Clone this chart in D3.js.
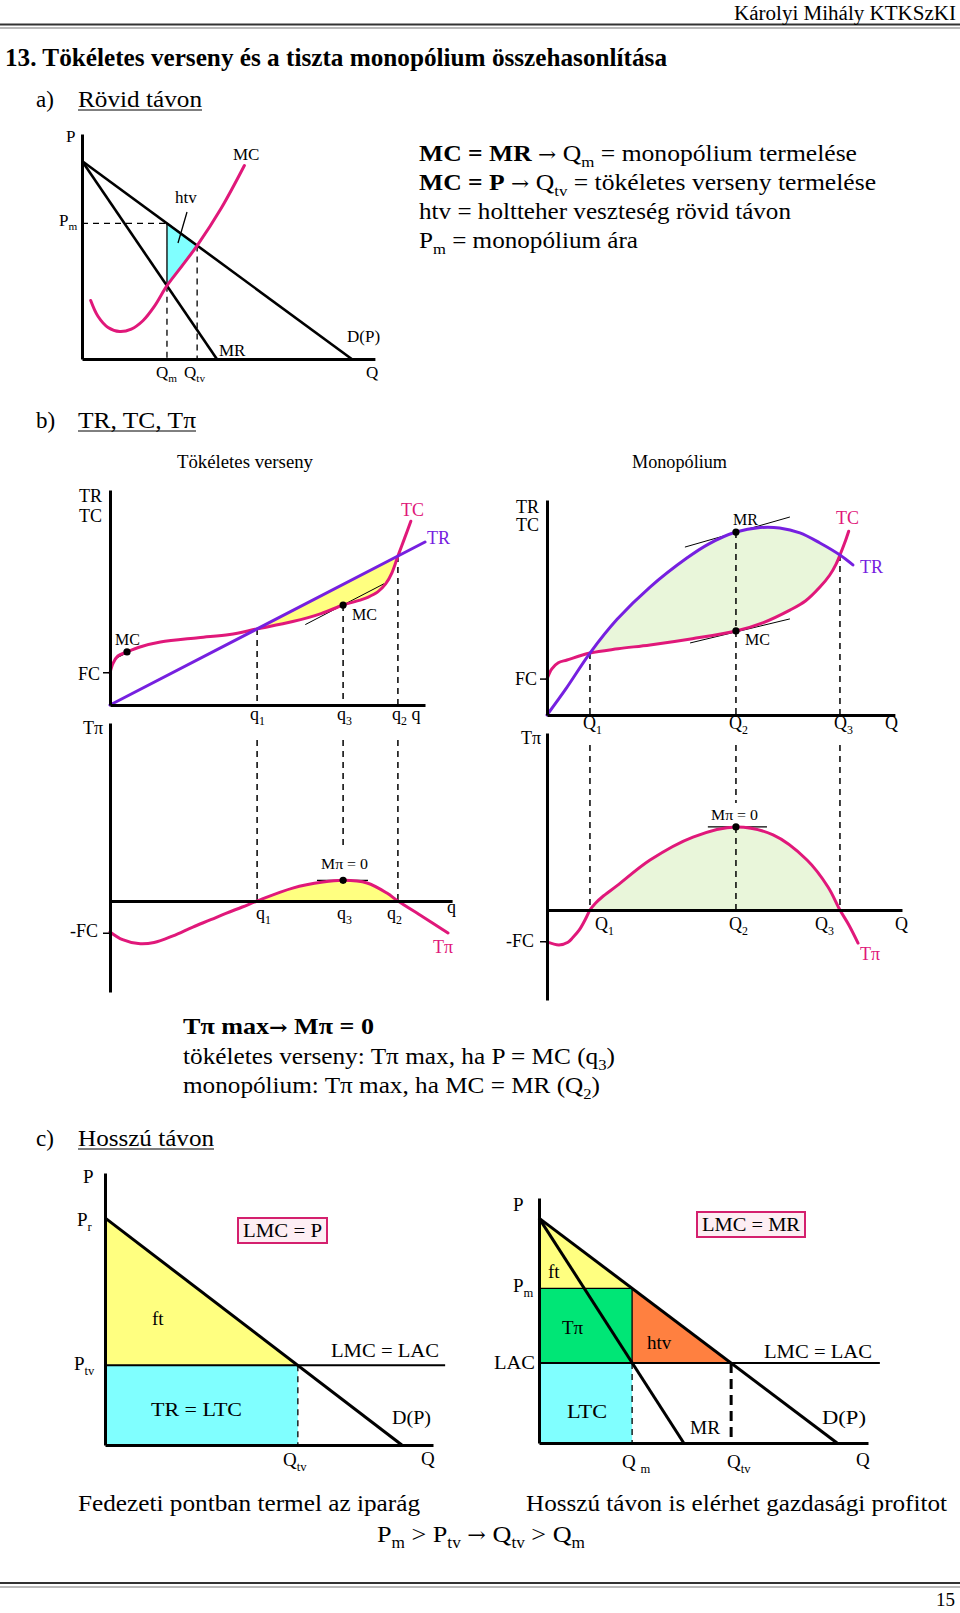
<!DOCTYPE html>
<html><head><meta charset="utf-8">
<script src="https://cdn.jsdelivr.net/npm/d3@7"></script>
<style>
body{margin:0;background:#fff}
svg{display:block}
text{font-family:"Liberation Serif","Times New Roman",serif;white-space:pre}
</style>
</head><body><svg id="page" width="960" height="1613"></svg>
<script>
// ---------- DATA ----------
// a) short run
const aDemand = [[0,88],[93,0]];
const aMR = [[0,88],[46.5,0]];
const aMC = [[3,26],[5.5,19],[9,14],[13,12.2],[17,13.3],[21,17],[25,23.5],[29.3,32.6],[34.5,41.4],[39.7,50.4],[48,67],[56,86]];
const aQm = 29.3, aQtv = 39.7, aPm = 60.3, aMRatQm = 32.6, aDatQtv = 50.4;
const aHtv = [[aQm,aPm],[aQtv,aDatQtv],[aQm,aMRatQm]];
// b) perfect competition
const pcTR = [[0,0],[100,75.8]];
const pcTC = [[0,15],[1,19.5],[2.5,22.8],[5.4,24.7],[9.5,27],[16,29.3],[28,31.3],[38,32.8],[46.7,35.4],[58,38.8],[67,42.5],[74,46.5],[79.4,48.8],[82,50.2],[85,52.6],[87.5,56.3],[89.5,61.5],[91.4,69.3],[93.5,77.5],[95.5,85.5]];
const pcQ = {q1:46.7, q3:74, q2:91.4};
const pcTCatQ = {q1:35.4, q3:46.5, q2:69.3};
const pcDots = [[5.4,24.7],[74,46.5]];
const pcTangents = [[[1.6,21.5],[9.5,27.2]],[[62,37.4],[87,56.4]]];
const pcPi = [[0,-14.4],[4,-18],[9,-19.8],[14,-19.3],[20,-16.2],[26.3,-12.1],[32,-8.7],[37,-5.6],[42,-2.8],[46.7,0],[58,6],[67.6,8.8],[74,9.6],[81.6,8.4],[87.9,3.7],[91.4,0],[99.4,-7.4],[107.3,-14.9]];
const pcPiMax = [74,9.6];
const pcPiTangent = [[65.7,9.6],[81.9,9.6]];
const pcFC = 15;
// b) monopoly
const moTR = [[0,0],[6,12.5],[13.3,28.8],[21.7,44.5],[31.9,59.5],[43.3,73],[50,79.5],[58.5,85.1],[66,87.2],[72,87],[78.3,84.7],[84.5,80],[90.7,74.4],[94.7,69.8]];
const moTC = [[0,16.7],[1.5,21.5],[3.5,24.3],[6.2,25.6],[13.3,28.8],[22,30.8],[31.9,32.6],[45,35.5],[58.5,39.1],[67,43],[75.2,48.8],[80,53],[84.5,59.5],[87.5,65],[89.5,70.2],[90.7,74.4],[92.2,80.2],[93.4,85.5]];
const moQ = {Q1:13.3, Q2:58.5, Q3:90.7};
const moTop = {Q1:28.8, Q2:85.1, Q3:74.4};
const moDots = [[58.5,85.1],[58.5,39.1]];
const moTangents = [[[42.7,78.1],[75.2,92.1]],[[44.3,33.5],[75.2,44.7]]];
const moPi = [[0,-16.8],[3.7,-18.4],[6.5,-17],[8,-14.5],[10,-10.5],[12,-4.5],[13.3,0],[15,3.6],[17,6.7],[21.7,12.8],[31.9,26.3],[45.2,38.4],[58.5,43.7],[70,39.5],[80.5,26.3],[87,12.1],[90.7,0],[93.5,-8],[96.3,-17.4]];
const moPiMax = [58.5,43.7];
const moPiTangent = [[49.8,43.7],[68.1,43.7]];
const moFC = 16.7;
// c) long run, perfect competition
const lcDemand = [[0,83.5],[90.5,0]];
const lcPtv = 29.3, lcQtv = 58.8, lcLACend = 103.7;
const lcFt = [[0,83.5],[lcQtv,lcPtv],[0,lcPtv]];
// c) long run, monopoly
const lmDemand = [[0,91.8],[90.6,0]];
const lmMR = [[0,91.8],[44,0]];
const lmPm = 63.1, lmLAC = 32.7, lmQm = 28.3, lmQtv = 58.4, lmLACend = 103.6;
const lmFt = [[0,91.8],[lmQm,lmPm],[0,lmPm]];
const lmHtv = [[lmQm,lmPm],[lmQtv,lmLAC],[lmQm,lmLAC]];

// ---------- HELPERS ----------
const svg = d3.select('#page');
const PINK = '#e0187a', PURPLE = '#7620e0';
const CR = d3.curveCatmullRom.alpha(0.5);

function txt(g, x, y, parts, o = {}) {
  const size = o.size || 17;
  const t = g.append('text').attr('x', x).attr('y', y).attr('font-size', size)
    .attr('text-anchor', o.anchor || 'start').style('fill', o.fill || '#000');
  if (o.bold) t.attr('font-weight', 'bold');
  if (o.len) t.attr('textLength', o.len).attr('lengthAdjust', 'spacingAndGlyphs');
  if (typeof parts === 'string') parts = [parts];
  const sh = size * 0.25;
  let low = false;
  parts.forEach(p => {
    const it = typeof p === 'string' ? {t: p} : p;
    const pieces = it.sub ? [it.t] : it.t.split(/(→)/).filter(s => s.length);
    pieces.forEach(piece => {
      const s = t.append('tspan').text(piece);
      if (piece === '→') s.style('font-family', '"DejaVu Serif",serif').attr('font-size', size * 0.85);
      if (it.b) s.attr('font-weight', 'bold');
      if (it.sub) { s.attr('font-size', size * 0.66); if (!low) { s.attr('dy', sh); low = true; } }
      else if (low) { s.attr('dy', -sh); low = false; }
    });
  });
  return t;
}
function path(g, pts, xs, ys, o = {}) {
  const gen = d3.line().x(d => xs(d[0])).y(d => ys(d[1])).curve(o.curve || d3.curveLinear);
  return g.append('path').attr('d', gen(pts) + (o.close ? 'Z' : ''))
    .attr('fill', o.fill || 'none').attr('stroke', o.stroke || 'none')
    .attr('stroke-width', o.w || 1).attr('stroke-dasharray', o.dash || null)
    .attr('stroke-linecap', o.cap || 'butt').attr('stroke-linejoin', 'round');
}
function band(g, upper, lower, xs, ys, fill) {
  const gen = d3.line().x(d => xs(d[0])).y(d => ys(d[1])).curve(CR);
  const a = gen(upper), b = gen(lower.slice().reverse());
  g.append('path').attr('d', a + 'L' + b.slice(1) + 'Z').attr('fill', fill);
}
function hAxis(g, xs, ys, from, to, at = 0, w = 3) {
  const s = d3.scaleLinear([from, to], [xs(from), xs(to)]);
  g.append('g').attr('transform', `translate(0,${ys(at)})`)
    .call(d3.axisBottom(s).tickValues([]).tickSizeOuter(0))
    .call(a => a.select('.domain').attr('stroke', '#000').attr('stroke-width', w));
}
function vAxis(g, xs, ys, from, to, at = 0, w = 3) {
  const s = d3.scaleLinear([from, to], [ys(from), ys(to)]);
  g.append('g').attr('transform', `translate(${xs(at)},0)`)
    .call(d3.axisLeft(s).tickValues([]).tickSizeOuter(0))
    .call(a => a.select('.domain').attr('stroke', '#000').attr('stroke-width', w));
}
function dashV(g, xs, ys, xv, y0, y1, w = 1.5, dash = '6,5') {
  path(g, [[xv, y0], [xv, y1]], xs, ys, {stroke: '#000', w, dash});
}
function dots(g, pts, xs, ys) {
  g.selectAll(null).data(pts).enter().append('circle')
    .attr('cx', d => xs(d[0])).attr('cy', d => ys(d[1])).attr('r', 3.6).attr('fill', '#000');
}
function tick(g, xs, ys, yv) {
  g.append('line').attr('x1', xs(0) - 7).attr('x2', xs(0)).attr('y1', ys(yv)).attr('y2', ys(yv)).attr('stroke', '#000').attr('stroke-width', 1.5);
}

// ---------- PAGE TEXT ----------
const T = svg.append('g');
T.append('line').attr('x1',0).attr('x2',960).attr('y1',24.5).attr('y2',24.5).attr('stroke','#333').attr('stroke-width',2);
T.append('line').attr('x1',0).attr('x2',960).attr('y1',28).attr('y2',28).attr('stroke','#777').attr('stroke-width',1);
txt(T, 956, 20, 'Károlyi Mihály KTKSzKI', {size: 20, anchor: 'end', len: 222});
txt(T, 5, 66, '13. Tökéletes verseny és a tiszta monopólium összehasonlítása', {size: 25, bold: true, len: 662});
function section(y, label, title, len) {
  txt(T, 36, y, label, {size: 23});
  txt(T, 78, y, title, {size: 23, len});
  T.append('line').attr('x1', 78).attr('x2', 78 + len).attr('y1', y + 3).attr('y2', y + 3).attr('stroke', '#000').attr('stroke-width', 1);
}
section(107, 'a)', 'Rövid távon', 124);
section(428, 'b)', 'TR, TC, Tπ', 118);
section(1146, 'c)', 'Hosszú távon', 136);

txt(T, 419, 161, [{t:'MC = MR', b:1}, ' → Q', {t:'m', sub:1}, ' = monopólium termelése'], {size: 23, len: 438});
txt(T, 419, 190, [{t:'MC = P', b:1}, ' → Q', {t:'tv', sub:1}, ' = tökéletes verseny termelése'], {size: 23, len: 457});
txt(T, 419, 219, 'htv = holtteher veszteség rövid távon', {size: 23, len: 372});
txt(T, 419, 248, ['P', {t:'m', sub:1}, ' = monopólium ára'], {size: 23, len: 219});

txt(T, 183, 1034, 'Tπ max→ Mπ = 0', {size: 23, bold: true, len: 191});
txt(T, 183, 1064, ['tökéletes verseny: Tπ max, ha P = MC (q', {t:'3', sub:1}, ')'], {size: 23, len: 432});
txt(T, 183, 1093, ['monopólium: Tπ max, ha MC = MR (Q', {t:'2', sub:1}, ')'], {size: 23, len: 417});

txt(T, 78, 1511, 'Fedezeti pontban termel az iparág', {size: 24, len: 342});
txt(T, 526, 1511, 'Hosszú távon is elérhet gazdasági profitot', {size: 24, len: 421});
txt(T, 377, 1542, ['P', {t:'m', sub:1}, ' > P', {t:'tv', sub:1}, ' → Q', {t:'tv', sub:1}, ' > Q', {t:'m', sub:1}], {size: 24, len: 208});
T.append('line').attr('x1',0).attr('x2',960).attr('y1',1583).attr('y2',1583).attr('stroke','#333').attr('stroke-width',2);
T.append('line').attr('x1',0).attr('x2',960).attr('y1',1587).attr('y2',1587).attr('stroke','#777').attr('stroke-width',1);
txt(T, 955, 1606, '15', {size: 19, anchor: 'end'});

// ---------- CHART a ----------
{
  const g = svg.append('g');
  const xs = d3.scaleLinear([0, 100], [82, 372]);
  const ys = d3.scaleLinear([0, 100], [359, 134]);
  path(g, aHtv, xs, ys, {close: true, fill: '#80ffff', stroke: '#000', w: 1.3});
  path(g, [[0, aPm], [aQm, aPm]], xs, ys, {stroke: '#000', w: 1.3, dash: '6,5'});
  dashV(g, xs, ys, aQm, aMRatQm, 0, 1.3);
  dashV(g, xs, ys, aQtv, aDatQtv, 0, 1.3);
  path(g, aDemand, xs, ys, {stroke: '#000', w: 2.6});
  path(g, aMR, xs, ys, {stroke: '#000', w: 2.6});
  path(g, aMC, xs, ys, {stroke: PINK, w: 3, curve: CR, cap: 'round'});
  vAxis(g, xs, ys, 0, 100);
  hAxis(g, xs, ys, 0, 101);
  g.append('line').attr('x1', 187).attr('y1', 212).attr('x2', 178).attr('y2', 243).attr('stroke', '#000').attr('stroke-width', 1.3);
  txt(g, 66, 142, 'P', {size: 17});
  txt(g, 59, 226, ['P', {t:'m', sub:1}], {size: 17});
  txt(g, 233, 160, 'MC', {size: 17});
  txt(g, 175, 203, 'htv', {size: 17});
  txt(g, 219, 356, 'MR', {size: 17});
  txt(g, 347, 342, 'D(P)', {size: 17});
  txt(g, 156, 378, ['Q', {t:'m', sub:1}], {size: 17});
  txt(g, 184, 378, ['Q', {t:'tv', sub:1}], {size: 17});
  txt(g, 366, 378, 'Q', {size: 17});
}

// ---------- CHART b (perfect competition) ----------
{
  const g = svg.append('g');
  const xs = d3.scaleLinear([0, 100], [110, 425]);
  const ys = d3.scaleLinear([0, 100], [705, 490]);
  const yb = d3.scaleLinear([0, 100], [901, 686]);
  band(g, pcTR, pcTC.filter(d => d[0] >= pcQ.q1 && d[0] <= pcQ.q2), xs, ys, '#ffff80');
  band(g, pcPi.filter(d => d[0] >= pcQ.q1 && d[0] <= pcQ.q2), [[pcQ.q1, 0], [pcQ.q2, 0]], xs, yb, '#ffff80');
  const gap = (901 - 740) / 2.15, labTop = (901 - 850) / 2.15;
  dashV(g, xs, ys, pcQ.q1, pcTCatQ.q1, 0); dashV(g, xs, yb, pcQ.q1, gap, 0);
  dashV(g, xs, ys, pcQ.q3, pcTCatQ.q3, 0); dashV(g, xs, yb, pcQ.q3, gap, labTop);
  dashV(g, xs, ys, pcQ.q2, pcTCatQ.q2, 0); dashV(g, xs, yb, pcQ.q2, gap, 0);
  pcTangents.forEach(t => path(g, t, xs, ys, {stroke: '#000', w: 1}));
  path(g, pcPiTangent, xs, yb, {stroke: '#000', w: 1.2});
  path(g, pcTC, xs, ys, {stroke: PINK, w: 3, curve: CR, cap: 'round'});
  path(g, pcTR, xs, ys, {stroke: PURPLE, w: 3, cap: 'round'});
  path(g, pcPi, xs, yb, {stroke: PINK, w: 3, curve: CR, cap: 'round'});
  dots(g, pcDots, xs, ys);
  dots(g, [pcPiMax], xs, yb);
  vAxis(g, xs, ys, 0, 100);
  hAxis(g, xs, ys, 0, 100);
  vAxis(g, xs, yb, -42.3, 82.8);
  hAxis(g, xs, yb, 0, 108.6);
  tick(g, xs, ys, pcFC);
  tick(g, xs, yb, -pcFC);
  txt(g, 177, 468, 'Tökéletes verseny', {size: 18, len: 136});
  txt(g, 79, 502, 'TR', {size: 18});
  txt(g, 79, 522, 'TC', {size: 18});
  txt(g, 78, 680, 'FC', {size: 18});
  txt(g, 401, 516, 'TC', {size: 18, fill: PINK});
  txt(g, 427, 544, 'TR', {size: 18, fill: PURPLE});
  txt(g, 115, 645, 'MC', {size: 16});
  txt(g, 352, 620, 'MC', {size: 16});
  txt(g, 250, 720, ['q', {t:'1', sub:1}], {size: 18});
  txt(g, 337, 720, ['q', {t:'3', sub:1}], {size: 18});
  txt(g, 392, 720, ['q', {t:'2', sub:1}, ' q'], {size: 18});
  txt(g, 83, 734, 'Tπ', {size: 18});
  txt(g, 70, 937, '-FC', {size: 18});
  txt(g, 321, 869, 'Mπ = 0', {size: 15, len: 47});
  txt(g, 256, 919, ['q', {t:'1', sub:1}], {size: 18});
  txt(g, 337, 919, ['q', {t:'3', sub:1}], {size: 18});
  txt(g, 387, 919, ['q', {t:'2', sub:1}], {size: 18});
  txt(g, 447, 913, 'q', {size: 18});
  txt(g, 433, 953, 'Tπ', {size: 18, fill: PINK});
}

// ---------- CHART b (monopoly) ----------
{
  const g = svg.append('g');
  const xs = d3.scaleLinear([0, 100], [547, 870]);
  const ys = d3.scaleLinear([0, 100], [715, 500]);
  const yb = d3.scaleLinear([0, 100], [910, 720]);
  const inQ = d => d[0] >= moQ.Q1 && d[0] <= moQ.Q3;
  band(g, moTR.filter(inQ), moTC.filter(inQ), xs, ys, '#e9f6da');
  band(g, moPi.filter(inQ), [[moQ.Q1, 0], [moQ.Q3, 0]], xs, yb, '#e9f6da');
  const gap = (910 - 745) / 1.9, labTop = (910 - 803) / 1.9;
  ['Q1', 'Q2', 'Q3'].forEach(k => dashV(g, xs, ys, moQ[k], moTop[k], 0));
  dashV(g, xs, yb, moQ.Q1, gap, 0);
  dashV(g, xs, yb, moQ.Q2, gap, labTop);
  dashV(g, xs, yb, moQ.Q2, moPiMax[1], 0);
  dashV(g, xs, yb, moQ.Q3, gap, 0);
  moTangents.forEach(t => path(g, t, xs, ys, {stroke: '#000', w: 1}));
  path(g, moPiTangent, xs, yb, {stroke: '#000', w: 1.2});
  path(g, moTC, xs, ys, {stroke: PINK, w: 3, curve: CR, cap: 'round'});
  path(g, moTR, xs, ys, {stroke: PURPLE, w: 3, curve: CR, cap: 'round'});
  path(g, moPi, xs, yb, {stroke: PINK, w: 3, curve: CR, cap: 'round'});
  dots(g, moDots, xs, ys);
  dots(g, [moPiMax], xs, yb);
  vAxis(g, xs, ys, 0, 100);
  hAxis(g, xs, ys, 0, 107.7);
  vAxis(g, xs, yb, -47.4, 93.2);
  hAxis(g, xs, yb, 0, 109.9);
  tick(g, xs, ys, moFC);
  tick(g, xs, yb, -moFC);
  txt(g, 632, 468, 'Monopólium', {size: 18, len: 95});
  txt(g, 516, 513, 'TR', {size: 18});
  txt(g, 516, 531, 'TC', {size: 18});
  txt(g, 515, 685, 'FC', {size: 18});
  txt(g, 733, 525, 'MR', {size: 16});
  txt(g, 745, 645, 'MC', {size: 16});
  txt(g, 836, 524, 'TC', {size: 18, fill: PINK});
  txt(g, 860, 573, 'TR', {size: 18, fill: PURPLE});
  txt(g, 583, 729, ['Q', {t:'1', sub:1}], {size: 18});
  txt(g, 729, 729, ['Q', {t:'2', sub:1}], {size: 18});
  txt(g, 834, 729, ['Q', {t:'3', sub:1}], {size: 18});
  txt(g, 885, 729, 'Q', {size: 18});
  txt(g, 521, 744, 'Tπ', {size: 18});
  txt(g, 506, 947, '-FC', {size: 18});
  txt(g, 711, 820, 'Mπ = 0', {size: 15, len: 47});
  txt(g, 595, 930, ['Q', {t:'1', sub:1}], {size: 18});
  txt(g, 729, 930, ['Q', {t:'2', sub:1}], {size: 18});
  txt(g, 815, 930, ['Q', {t:'3', sub:1}], {size: 18});
  txt(g, 895, 930, 'Q', {size: 18});
  txt(g, 860, 960, 'Tπ', {size: 18, fill: PINK});
}

// ---------- CHART c (perfect competition, long run) ----------
{
  const g = svg.append('g');
  const xs = d3.scaleLinear([0, 100], [105, 433]);
  const ys = d3.scaleLinear([0, 100], [1445, 1173]);
  path(g, lcFt, xs, ys, {close: true, fill: '#ffff80'});
  path(g, [[0, 0], [lcQtv, 0], [lcQtv, lcPtv], [0, lcPtv]], xs, ys, {close: true, fill: '#80ffff'});
  dashV(g, xs, ys, lcQtv, lcPtv, 0, 1.3);
  path(g, [[0, lcPtv], [lcLACend, lcPtv]], xs, ys, {stroke: '#000', w: 2});
  path(g, lcDemand, xs, ys, {stroke: '#000', w: 3});
  vAxis(g, xs, ys, 0, 100);
  hAxis(g, xs, ys, 0, 100);
  g.append('rect').attr('x', 238).attr('y', 1218).attr('width', 89).attr('height', 25)
    .attr('fill', '#fdeef3').attr('stroke', '#d4206e').attr('stroke-width', 2);
  txt(g, 243, 1237, 'LMC = P', {size: 19, len: 79});
  txt(g, 83, 1183, 'P', {size: 19});
  txt(g, 77, 1226, ['P', {t:'r', sub:1}], {size: 19});
  txt(g, 74, 1370, ['P', {t:'tv', sub:1}], {size: 19});
  txt(g, 152, 1325, 'ft', {size: 19});
  txt(g, 331, 1357, 'LMC = LAC', {size: 19, len: 108});
  txt(g, 151, 1416, 'TR = LTC', {size: 19, len: 91});
  txt(g, 392, 1424, 'D(P)', {size: 19, len: 39});
  txt(g, 283, 1466, ['Q', {t:'tv', sub:1}], {size: 19});
  txt(g, 421, 1465, 'Q', {size: 19});
}

// ---------- CHART c (monopoly, long run) ----------
{
  const g = svg.append('g');
  const xs = d3.scaleLinear([0, 100], [539, 868]);
  const ys = d3.scaleLinear([0, 100], [1443, 1198]);
  path(g, lmFt, xs, ys, {close: true, fill: '#ffff80'});
  path(g, [[0, lmLAC], [lmQm, lmLAC], [lmQm, lmPm], [0, lmPm]], xs, ys, {close: true, fill: '#00e676'});
  path(g, lmHtv, xs, ys, {close: true, fill: '#ff8040'});
  path(g, [[0, 0], [lmQm, 0], [lmQm, lmLAC], [0, lmLAC]], xs, ys, {close: true, fill: '#80ffff'});
  path(g, [[0, lmPm], [lmQm, lmPm]], xs, ys, {stroke: '#000', w: 1.3});
  path(g, [[lmQm, lmPm], [lmQm, lmLAC]], xs, ys, {stroke: '#000', w: 1.3});
  dashV(g, xs, ys, lmQm, lmLAC, 0, 1.3);
  dashV(g, xs, ys, lmQtv, lmLAC, 0, 3, '10,6');
  path(g, [[0, lmLAC], [lmLACend, lmLAC]], xs, ys, {stroke: '#000', w: 2});
  path(g, lmDemand, xs, ys, {stroke: '#000', w: 3});
  path(g, lmMR, xs, ys, {stroke: '#000', w: 3});
  vAxis(g, xs, ys, 0, 100);
  hAxis(g, xs, ys, 0, 100);
  g.append('rect').attr('x', 697).attr('y', 1212).attr('width', 108).attr('height', 25)
    .attr('fill', '#fdeef3').attr('stroke', '#d4206e').attr('stroke-width', 2);
  txt(g, 702, 1231, 'LMC = MR', {size: 19, len: 98});
  txt(g, 513, 1211, 'P', {size: 19});
  txt(g, 513, 1292, ['P', {t:'m', sub:1}], {size: 19});
  txt(g, 494, 1369, 'LAC', {size: 19, len: 41});
  txt(g, 548, 1278, 'ft', {size: 19});
  txt(g, 562, 1334, 'Tπ', {size: 19});
  txt(g, 647, 1349, 'htv', {size: 19});
  txt(g, 764, 1358, 'LMC = LAC', {size: 19, len: 108});
  txt(g, 567, 1418, 'LTC', {size: 19, len: 40});
  txt(g, 690, 1434, 'MR', {size: 19, len: 30});
  txt(g, 822, 1424, 'D(P)', {size: 19, len: 44});
  txt(g, 622, 1468, ['Q ', {t:'m', sub:1}], {size: 19});
  txt(g, 727, 1468, ['Q', {t:'tv', sub:1}], {size: 19});
  txt(g, 856, 1466, 'Q', {size: 19});
}
</script></body></html>
